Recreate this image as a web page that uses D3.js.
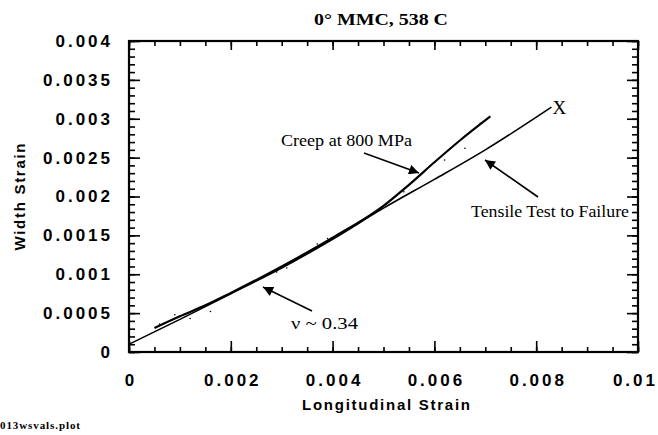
<!DOCTYPE html>
<html>
<head>
<meta charset="utf-8">
<script src="https://cdn.jsdelivr.net/npm/d3@7"></script>
<style>
body { margin: 0; background: #fff; }
svg { display: block; }
.tick-label text { font-family: "Liberation Sans", Arial, sans-serif; font-size: 17px; font-weight: bold; letter-spacing: 3px; fill: #000; }
.axis path, .axis line { stroke: #000; }
.note { font-family: "Liberation Serif", "Times New Roman", serif; font-size: 17px; fill: #000; }
</style>
</head>
<body>
<svg id="chart" width="658" height="435"></svg>
<script>
var xTicks = [0, 0.002, 0.004, 0.006, 0.008, 0.01]
var yTicks = [0, 0.0005, 0.001, 0.0015, 0.002, 0.0025, 0.003, 0.0035, 0.004]

// tensile test to failure (longitudinal, width)
var tensileX = [0, 0.001, 0.002, 0.003, 0.004, 0.005, 0.006, 0.007, 0.0083]
var tensileY = [0.0001, 0.00042, 0.00075, 0.00108, 0.00145, 0.00185, 0.00222, 0.0026, 0.00315]

// creep at 800 MPa
var creepX = [0.0005, 0.001, 0.0015, 0.002, 0.003, 0.004, 0.005, 0.0055, 0.006, 0.0065, 0.0071]
var creepY = [0.00031, 0.00046, 0.0006, 0.00076, 0.0011, 0.00147, 0.00188, 0.00215, 0.00244, 0.00272, 0.00303]

// loose scatter around the traces
var dotsX = [0.0006, 0.0009, 0.0012, 0.0016, 0.0029, 0.0031, 0.0037, 0.0039, 0.0048, 0.0054, 0.0058, 0.0062, 0.0066, 0.0069]
var dotsY = [0.00036, 0.00048, 0.00043, 0.00052, 0.00103, 0.00108, 0.00139, 0.00146, 0.00178, 0.00206, 0.00232, 0.00247, 0.00262, 0.00294]

var svg = d3.select('#chart')

var x = d3.scaleLinear().domain([0, 0.01]).range([129, 638])
var y = d3.scaleLinear().domain([0, 0.004]).range([352, 41])

var xMinor = d3.range(0, 0.01001, 0.0005)
var yMinor = d3.range(0, 0.004001, 0.0001)

function styleAxis(g) {
    g.attr('class', 'axis')
    g.select('.domain').remove()
    g.selectAll('line').attr('stroke-width', 1.6)
}

// minor + major ticks, pointing into the plot
svg.append('g').attr('transform', 'translate(0,' + y(0) + ')')
    .call(d3.axisBottom(x).tickValues(xMinor).tickSize(-5).tickFormat(''))
    .call(styleAxis)
svg.append('g').attr('transform', 'translate(0,' + y(0) + ')')
    .call(d3.axisBottom(x).tickValues(xTicks).tickSize(-11).tickFormat(''))
    .call(styleAxis)
svg.append('g').attr('transform', 'translate(0,' + y(0.004) + ')')
    .call(d3.axisTop(x).tickValues(xMinor).tickSize(-5).tickFormat(''))
    .call(styleAxis)
svg.append('g').attr('transform', 'translate(0,' + y(0.004) + ')')
    .call(d3.axisTop(x).tickValues(xTicks).tickSize(-9).tickFormat(''))
    .call(styleAxis)
svg.append('g').attr('transform', 'translate(' + x(0) + ',0)')
    .call(d3.axisLeft(y).tickValues(yMinor).tickSize(-6).tickFormat(''))
    .call(styleAxis)
svg.append('g').attr('transform', 'translate(' + x(0) + ',0)')
    .call(d3.axisLeft(y).tickValues(yTicks).tickSize(-11).tickFormat(''))
    .call(styleAxis)
svg.append('g').attr('transform', 'translate(' + x(0.01) + ',0)')
    .call(d3.axisRight(y).tickValues(yMinor).tickSize(-6).tickFormat(''))
    .call(styleAxis)
svg.append('g').attr('transform', 'translate(' + x(0.01) + ',0)')
    .call(d3.axisRight(y).tickValues(yTicks).tickSize(-11).tickFormat(''))
    .call(styleAxis)

// frame
svg.append('rect')
    .attr('x', x(0)).attr('y', y(0.004))
    .attr('width', x(0.01) - x(0)).attr('height', y(0) - y(0.004))
    .attr('fill', 'none').attr('stroke', '#000').attr('stroke-width', 2.2)

// tick labels
var fmt = function (d) { return d === 0 ? '0' : String(+d.toFixed(4)) }

var xLab = svg.append('g').attr('class', 'tick-label')
    .attr('transform', 'translate(1.5,' + (y(0) + 22) + ')')
    .call(d3.axisBottom(x).tickValues(xTicks).tickSize(0).tickPadding(0).tickFormat(fmt))
xLab.select('.domain').remove()
xLab.attr('font-family', null).attr('font-size', null)
// last label sits against the right edge of the page
xLab.selectAll('.tick').filter(function (d) { return d === 0.01 }).select('text')
    .attr('text-anchor', 'end').attr('x', 656 - x(0.01))

var yLab = svg.append('g').attr('class', 'tick-label')
    .attr('transform', 'translate(' + (x(0) - 16) + ',0)')
    .call(d3.axisLeft(y).tickValues(yTicks).tickSize(0).tickPadding(0).tickFormat(fmt))
yLab.select('.domain').remove()
yLab.attr('font-family', null).attr('font-size', null)

// traces
var line = d3.line().x(function (d) { return x(d[0]) }).y(function (d) { return y(d[1]) }).curve(d3.curveMonotoneX)

svg.append('path')
    .datum(d3.zip(tensileX, tensileY))
    .attr('d', line)
    .attr('fill', 'none').attr('stroke', '#000').attr('stroke-width', 1.6)

svg.append('path')
    .datum(d3.zip(creepX, creepY))
    .attr('d', line)
    .attr('fill', 'none').attr('stroke', '#000').attr('stroke-width', 2.2)

svg.append('g').selectAll('circle')
    .data(d3.zip(dotsX, dotsY))
    .enter().append('circle')
    .attr('cx', function (d) { return x(d[0]) })
    .attr('cy', function (d) { return y(d[1]) })
    .attr('r', 0.8).attr('fill', '#000')

// failure mark
svg.append('text').attr('class', 'note')
    .attr('x', x(tensileX[tensileX.length - 1]) + 1)
    .attr('y', y(tensileY[tensileY.length - 1]) + 7)
    .style('font-size', '19px')
    .text('X')

// annotations
svg.append('defs').append('marker')
    .attr('id', 'head').attr('viewBox', '0 0 10 10')
    .attr('refX', 10).attr('refY', 5)
    .attr('markerWidth', 16).attr('markerHeight', 10)
    .attr('markerUnits', 'userSpaceOnUse')
    .attr('orient', 'auto')
    .append('path').attr('d', 'M0,0L10,5L0,10z').attr('fill', '#000')

function arrow(x1, y1, x2, y2) {
    svg.append('line')
        .attr('x1', x1).attr('y1', y1).attr('x2', x2).attr('y2', y2)
        .attr('stroke', '#000').attr('stroke-width', 1.6)
        .attr('marker-end', 'url(#head)')
}

function note(tx, ty, len, label) {
    svg.append('text').attr('class', 'note')
        .attr('x', tx).attr('y', ty)
        .attr('textLength', len).attr('lengthAdjust', 'spacingAndGlyphs')
        .text(label)
}

note(281, 146, 131, 'Creep at 800 MPa')
arrow(364, 153, 419, 173)

note(471, 217, 158, 'Tensile Test to Failure')
arrow(538, 197, 485, 160)

note(291, 329, 67, 'ν ~ 0.34')
arrow(312, 311, 263, 287)

// titles
svg.append('text')
    .attr('x', 381).attr('y', 25)
    .attr('text-anchor', 'middle')
    .attr('font-family', '"Liberation Serif", serif')
    .attr('font-weight', 'bold').attr('font-size', 17)
    .attr('textLength', 134).attr('lengthAdjust', 'spacingAndGlyphs')
    .text('0° MMC, 538 C')

svg.append('text')
    .attr('x', 386).attr('y', 410)
    .attr('text-anchor', 'middle')
    .attr('font-family', '"Liberation Sans", Arial, sans-serif')
    .attr('font-weight', 'bold').attr('font-size', 15)
    .attr('textLength', 168)
    .text('Longitudinal Strain')

svg.append('text')
    .attr('transform', 'translate(25,197) rotate(-90)')
    .attr('text-anchor', 'middle')
    .attr('font-family', '"Liberation Sans", Arial, sans-serif')
    .attr('font-weight', 'bold').attr('font-size', 15)
    .attr('textLength', 107)
    .text('Width Strain')

svg.append('text')
    .attr('x', 0).attr('y', 429)
    .attr('font-family', '"Liberation Serif", serif')
    .attr('font-weight', 'bold').attr('font-size', 11)
    .attr('textLength', 80)
    .text('013wsvals.plot')
</script>
</body>
</html>
